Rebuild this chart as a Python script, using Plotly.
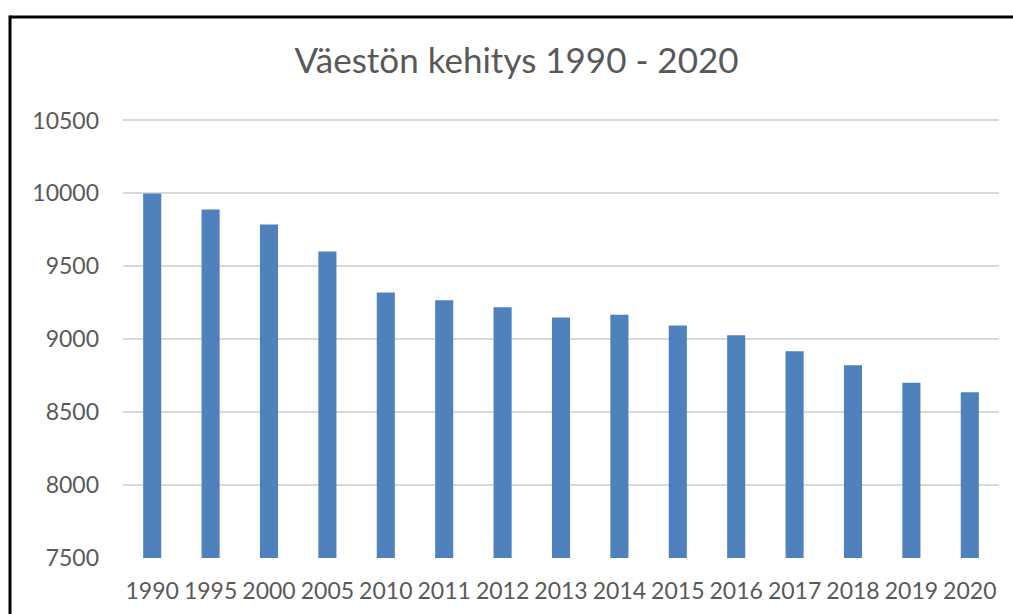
import plotly.graph_objects as go

years = ["1990", "1995", "2000", "2005", "2010", "2011", "2012", "2013",
         "2014", "2015", "2016", "2017", "2018", "2019", "2020"]
population = [10000, 9890, 9787, 9602, 9320, 9267, 9219, 9149,
              9167, 9094, 9027, 8918, 8821, 8702, 8636]
y_ticks = [7500, 8000, 8500, 9000, 9500, 10000, 10500]
y_tick_text = [str(v) for v in y_ticks]
title_text = "Väestön kehitys 1990 - 2020"

W, H = 1013, 614
L, R, T, B = 123, 14, 118.5, 56
pw, ph = W - L - R, H - T - B

fig = go.Figure(go.Bar(
    x=years, y=population, marker=dict(color="#4f81bd", line=dict(width=0)),
))

def px_to_paper_x(px):
    return (px - L) / pw

def px_to_paper_y(py):
    return (H - B - py) / ph

frame = dict(color="black", width=3)
fig.update_layout(
    width=W, height=H,
    margin=dict(l=L, r=R, t=T, b=B, autoexpand=False),
    paper_bgcolor="white", plot_bgcolor="white",
    bargap=0.69,
    showlegend=False,
    font=dict(family="Lato, Carlito, sans-serif", color="#595959", size=23),
    title=dict(text=title_text, x=516.5 / W, xanchor="center",
               y=1 - 61 / H, yanchor="middle", yref="container",
               font=dict(size=35, color="#595959")),
    xaxis=dict(showgrid=False, showline=False, ticks="", zeroline=False,
               tickfont=dict(size=23), ticklabelstandoff=17, automargin=False),
    yaxis=dict(range=[7500, 10510], tickvals=y_ticks, ticktext=y_tick_text,
               showgrid=True, gridcolor="#d9d9d9", gridwidth=2, zeroline=False,
               showline=False, ticks="", ticklabelstandoff=23,
               tickfont=dict(size=23), automargin=False),
    shapes=[
        dict(type="line", xref="paper", yref="paper",
             x0=px_to_paper_x(10), x1=px_to_paper_x(W),
             y0=px_to_paper_y(16.5), y1=px_to_paper_y(16.5),
             line=frame, layer="above"),
        dict(type="line", xref="paper", yref="paper",
             x0=px_to_paper_x(10), x1=px_to_paper_x(10),
             y0=px_to_paper_y(15), y1=px_to_paper_y(H),
             line=frame, layer="above"),
    ],
)

fig.write_html("out.html", config={"displayModeBar": False},
               post_script="document.body.style.margin='0';document.body.style.overflow='hidden';")
